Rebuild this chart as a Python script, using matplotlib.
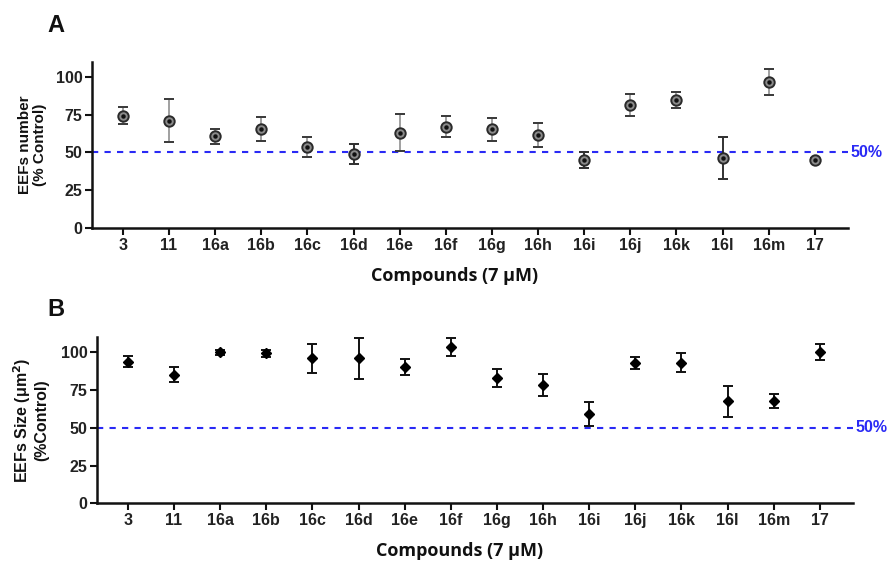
import matplotlib
matplotlib.use("Agg")
import matplotlib.pyplot as plt
import numpy as np

compounds = ["3", "11", "16a", "16b", "16c", "16d", "16e", "16f", "16g", "16h",
             "16i", "16j", "16k", "16l", "16m", "17"]
number_mean = [74.3, 70.8, 60.7, 65.3, 53.6, 49.0, 63.1, 67.0, 65.3, 61.5,
               45.3, 81.3, 84.6, 46.2, 96.5, 45.3]
number_err = [5.5, 14.2, 5.0, 7.8, 6.8, 6.7, 12.0, 6.8, 7.5, 8.2,
              5.3, 7.2, 5.2, 13.8, 8.5, 0.8]
number_err_dark = [False, False, False, False, False, True, False, False, False, False,
                   True, False, False, True, False, False]
size_mean = [93.8, 85.2, 100.0, 99.3, 96.0, 96.0, 90.3, 103.5, 82.8, 78.3,
             59.1, 92.9, 93.1, 67.5, 68.0, 100.2]
size_err = [3.8, 4.9, 1.5, 2.5, 9.7, 13.4, 5.1, 6.2, 6.0, 7.0,
            7.7, 4.0, 6.3, 10.2, 4.6, 5.4]
yticks = [0, 25, 50, 75, 100]
threshold = 50

W, H = 888, 563
fig = plt.figure(figsize=(W / 100, H / 100), dpi=100)

tick_font = dict(family="Liberation Sans", weight="bold", size=11.5)
xlab_font = dict(family="Open Sans", weight="bold", size=13)

def style_axes(ax):
    x = np.arange(len(compounds))
    ax.set_xlim(-0.67, len(compounds) - 1 + 0.72)
    ax.set_ylim(0, 110)
    ax.set_yticks(yticks)
    ax.set_xticks(x)
    ax.set_xticklabels(compounds)
    for s in ["top", "right"]:
        ax.spines[s].set_visible(False)
    for s in ["left", "bottom"]:
        ax.spines[s].set_linewidth(1.8)
        ax.spines[s].set_color("#111111")
    ax.tick_params(axis="both", direction="out", length=5, width=1.5, colors="#111111", pad=2)
    for lab in ax.get_xticklabels() + ax.get_yticklabels():
        lab.set_fontfamily(tick_font["family"])
        lab.set_fontweight("bold")
        lab.set_fontsize(tick_font["size"])
        lab.set_color("#222222")
    ax.axhline(threshold, xmin=0, xmax=1, color="#2a2af5", linestyle=(0, (3, 3)), linewidth=1.5, zorder=1)
    ax.text(1.003, threshold, "50%", transform=ax.get_yaxis_transform(), color="#2a2af5",
            fontsize=11.5, fontweight="bold", family="Liberation Sans", va="center", ha="left")
    ax.set_xlabel("Compounds (7 μM)", fontdict=xlab_font, color="#111111", labelpad=10)
    return x

# Panel A
axA = fig.add_axes([92 / W, 1 - 228.3 / H, (848 - 92) / W, 166.8 / H])
x = style_axes(axA)
for i in range(len(compounds)):
    c = "#222222" if number_err_dark[i] else "#999999"
    axA.errorbar(x[i], number_mean[i], yerr=number_err[i], fmt="none", ecolor=c,
                 elinewidth=1.3, capsize=3.5, capthick=1.3, zorder=2)
    axA.errorbar(x[i], number_mean[i], yerr=number_err[i], fmt="none", ecolor="#333333",
                 elinewidth=0, capsize=3.5, capthick=1.3, zorder=2)
axA.plot(x, number_mean, linestyle="none", marker="o", markersize=7.5,
         markerfacecolor="#8a8a8a", markeredgecolor="#2a2a2a", markeredgewidth=1.4, zorder=3)
axA.plot(x, number_mean, linestyle="none", marker="o", markersize=2.2,
         markerfacecolor="#111111", markeredgecolor="#111111", zorder=4)
axA.set_ylabel("EEFs number\n(% Control)", family="Liberation Sans", fontweight="bold",
               fontsize=11, color="#111111", labelpad=6, linespacing=1.15)
axA.xaxis.label.set_position((0.48, 0))
fig.text(47 / W, 1 - 25 / H, "A", fontsize=17, fontweight="bold", family="Liberation Sans",
         va="center", ha="left", color="#111111")

# Panel B
axB = fig.add_axes([97 / W, 1 - 503.3 / H, (853 - 97) / W, 166.1 / H])
x = style_axes(axB)
axB.errorbar(x, size_mean, yerr=size_err, fmt="none", ecolor="#111111",
             elinewidth=1.4, capsize=3.5, capthick=1.4, zorder=2)
axB.plot(x, size_mean, linestyle="none", marker="D", markersize=5.5,
         markerfacecolor="#000000", markeredgecolor="#000000", zorder=3)
axB.set_ylabel("EEFs Size (μm$^\\mathbf{2}$)\n(%Control)", family="Liberation Sans",
               fontweight="bold", fontsize=11.5, color="#111111", labelpad=8, linespacing=1.1)
axB.xaxis.label.set_position((0.48, 0))
fig.text(47 / W, 1 - 310 / H, "B", fontsize=17, fontweight="bold", family="Liberation Sans",
         va="center", ha="left", color="#111111")

fig.savefig("out.png", dpi=100)
